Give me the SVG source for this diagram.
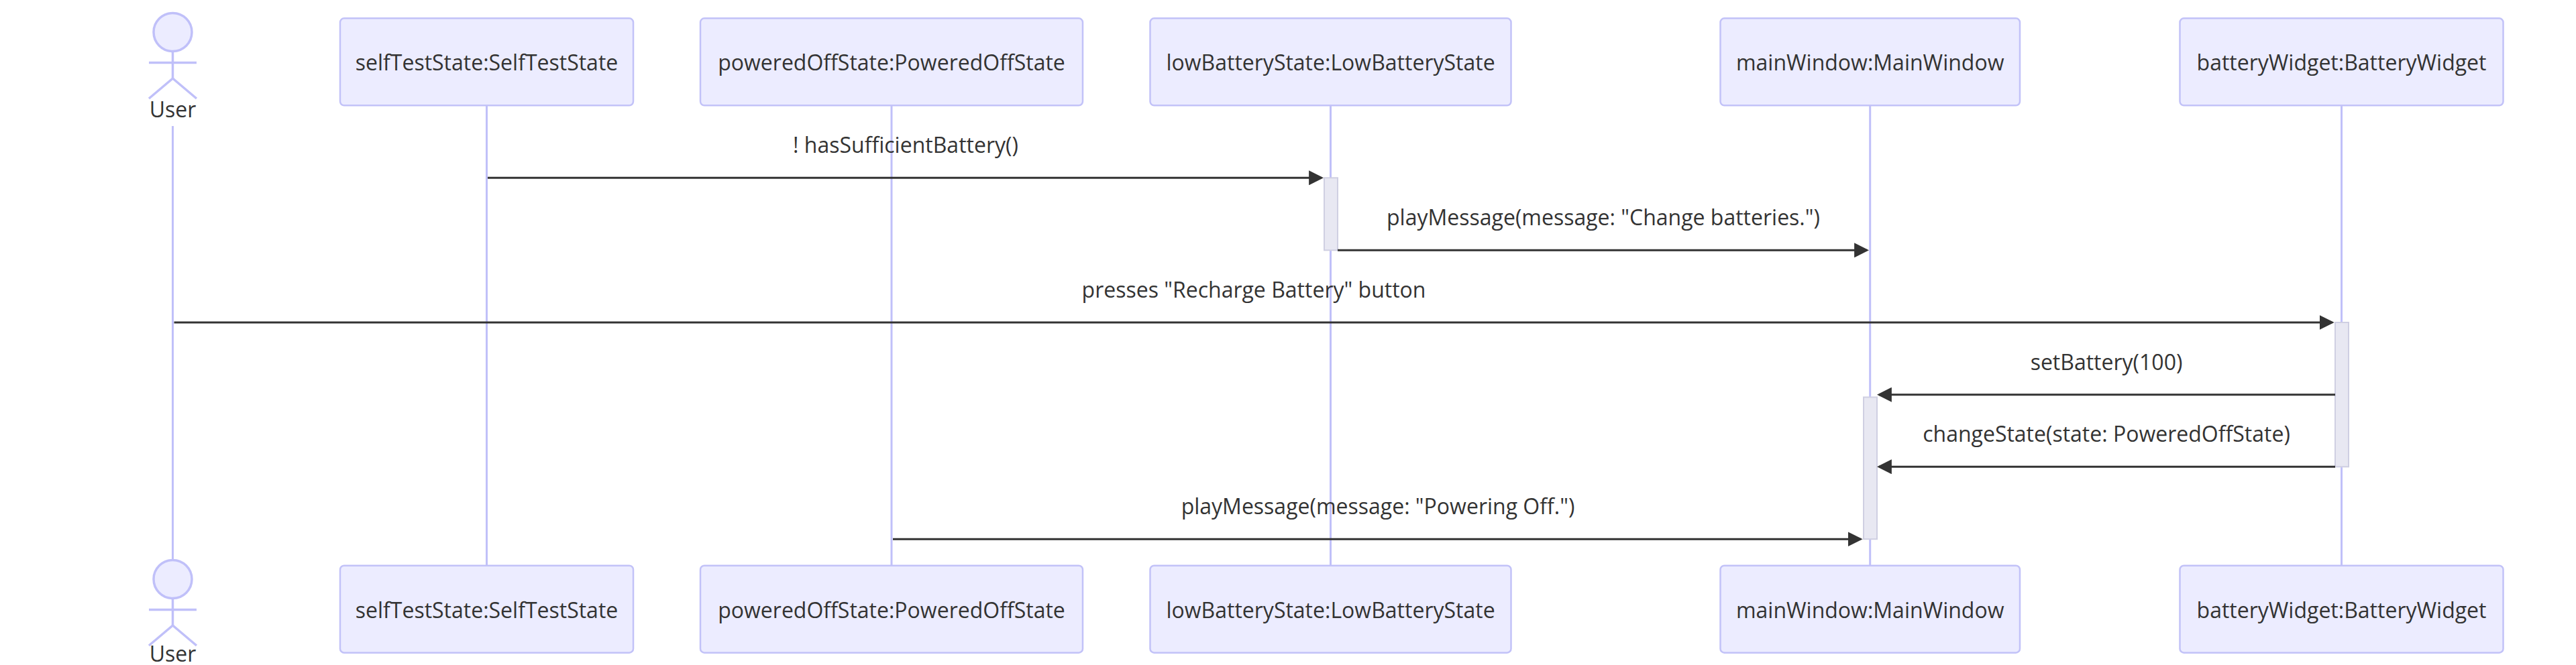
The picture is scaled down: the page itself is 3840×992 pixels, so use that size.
<svg xmlns="http://www.w3.org/2000/svg" width="3840" height="992" viewBox="0 0 3840 992">
<defs>
<style>
.box{fill:#ECECFF;stroke:#C2C2F8;stroke-width:2.5}
.life{stroke:#C0C0F9;stroke-width:3;fill:none}
.man{fill:none;stroke:#C0C0F9;stroke-width:3.5}
.head{fill:#ECECFF;stroke:#C0C0F9;stroke-width:3.5}
.lbl{font-family:"Open Sans","Noto Sans","Liberation Sans",sans-serif;font-size:32px;fill:#333;text-anchor:middle}
.msg{stroke:#333;stroke-width:3;fill:none;marker-end:url(#ah)}
.act{fill:#E8E8F2;stroke:#CFCFE2;stroke-width:2}
</style>
<marker id="ah" viewBox="0 0 10 10" refX="8.57" refY="5" markerWidth="22" markerHeight="22" markerUnits="userSpaceOnUse" orient="auto">
<path d="M0,0 L10,5 L0,10 z" fill="#333"/>
</marker>
</defs>
<rect width="3840" height="992" fill="#ffffff"/>

<g id="lifelines">
<line class="life" x1="257.5" y1="188" x2="257.5" y2="834"/>
<line class="life" x1="725.5" y1="157.3" x2="725.5" y2="843.7"/>
<line class="life" x1="1329" y1="157.3" x2="1329" y2="843.7"/>
<line class="life" x1="1983.5" y1="157.3" x2="1983.5" y2="843.7"/>
<line class="life" x1="2787.7" y1="157.3" x2="2787.7" y2="843.7"/>
<line class="life" x1="3490.5" y1="157.3" x2="3490.5" y2="843.7"/>
</g>

<g id="User">
<circle class="head" cx="257.5" cy="48" r="28.5"/>
<line class="man" x1="257.5" y1="76.5" x2="257.5" y2="117"/>
<line class="man" x1="222" y1="93.5" x2="293" y2="93.5"/>
<path class="man" d="M222,147 L257.5,117 L293,147"/>
<text class="lbl" x="257.5" y="175">User</text>
<circle class="head" cx="257.5" cy="864" r="28.5"/>
<line class="man" x1="257.5" y1="892.5" x2="257.5" y2="933"/>
<line class="man" x1="222" y1="909.5" x2="293" y2="909.5"/>
<path class="man" d="M222,963 L257.5,933 L293,963"/>
<text class="lbl" x="257.5" y="987">User</text>
</g>

<g id="selfTestState">
<rect class="box" x="507" y="27.3" width="437" height="130" rx="6"/>
<text class="lbl" x="725.5" y="105">selfTestState:SelfTestState</text>
<rect class="box" x="507" y="843.7" width="437" height="130" rx="6"/>
<text class="lbl" x="725.5" y="921.5">selfTestState:SelfTestState</text>
</g>

<g id="poweredOffState">
<rect class="box" x="1044" y="27.3" width="570" height="130" rx="6"/>
<text class="lbl" x="1329" y="105">poweredOffState:PoweredOffState</text>
<rect class="box" x="1044" y="843.7" width="570" height="130" rx="6"/>
<text class="lbl" x="1329" y="921.5">poweredOffState:PoweredOffState</text>
</g>

<g id="lowBatteryState">
<rect class="box" x="1714.5" y="27.3" width="538" height="130" rx="6"/>
<text class="lbl" x="1983.5" y="105">lowBatteryState:LowBatteryState</text>
<rect class="box" x="1714.5" y="843.7" width="538" height="130" rx="6"/>
<text class="lbl" x="1983.5" y="921.5">lowBatteryState:LowBatteryState</text>
</g>

<g id="mainWindow">
<rect class="box" x="2564.5" y="27.3" width="446.5" height="130" rx="6"/>
<text class="lbl" x="2787.7" y="105">mainWindow:MainWindow</text>
<rect class="box" x="2564.5" y="843.7" width="446.5" height="130" rx="6"/>
<text class="lbl" x="2787.7" y="921.5">mainWindow:MainWindow</text>
</g>

<g id="batteryWidget">
<rect class="box" x="3249.5" y="27.3" width="482" height="130" rx="6"/>
<text class="lbl" x="3490.5" y="105">batteryWidget:BatteryWidget</text>
<rect class="box" x="3249.5" y="843.7" width="482" height="130" rx="6"/>
<text class="lbl" x="3490.5" y="921.5">batteryWidget:BatteryWidget</text>
</g>

<g id="activations">
<rect class="act" x="1974" y="265.3" width="20" height="108"/>
<rect class="act" x="3481" y="481" width="20" height="215.3"/>
<rect class="act" x="2778" y="592.5" width="20" height="211.7"/>
</g>

<g id="connectors">
<line class="msg" x1="727" y1="265.3" x2="1970" y2="265.3"/>
<text class="lbl" x="1350" y="228.3">! hasSufficientBattery()</text>
<line class="msg" x1="1994" y1="373.3" x2="2783" y2="373.3"/>
<text class="lbl" x="2390" y="336.3">playMessage(message: "Change batteries.")</text>
<line class="msg" x1="259.5" y1="481" x2="3476.5" y2="481"/>
<text class="lbl" x="1869" y="444">presses "Recharge Battery" button</text>
<line class="msg" x1="3481" y1="588.7" x2="2801" y2="588.7"/>
<text class="lbl" x="3140" y="551.7">setBattery(100)</text>
<line class="msg" x1="3481" y1="696.3" x2="2801" y2="696.3"/>
<text class="lbl" x="3140" y="659.3">changeState(state: PoweredOffState)</text>
<line class="msg" x1="1331" y1="804.2" x2="2773.5" y2="804.2"/>
<text class="lbl" x="2054" y="767.2">playMessage(message: "Powering Off.")</text>
</g>
</svg>
